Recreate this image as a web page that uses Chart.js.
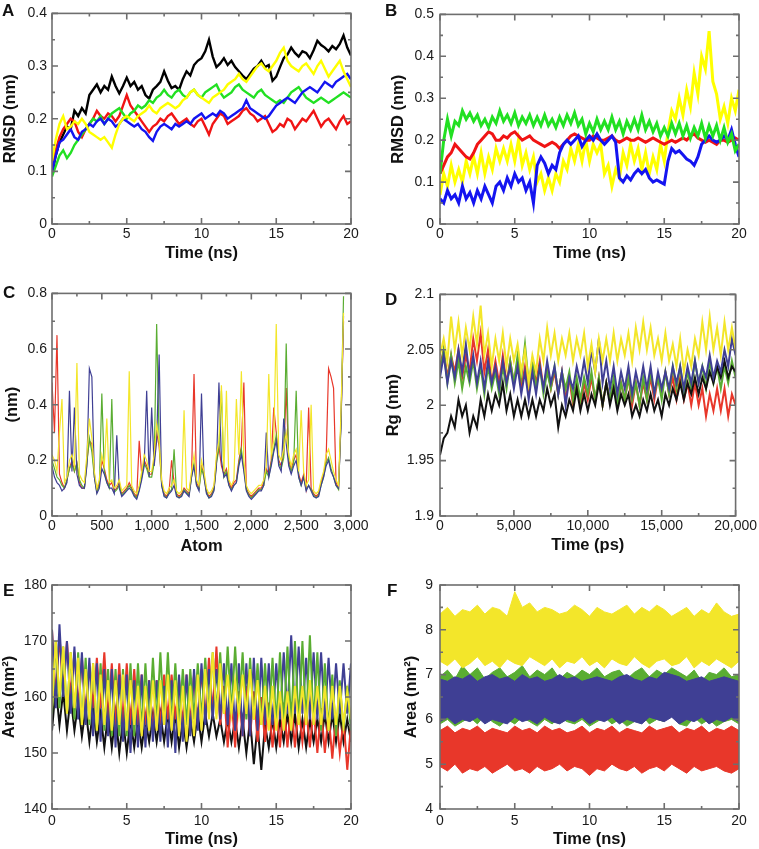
<!DOCTYPE html>
<html>
<head>
<meta charset="utf-8">
<script src="https://cdn.jsdelivr.net/npm/chart.js@4.4.1/dist/chart.umd.min.js"></script>
<style>
  body { margin: 0; background: #fff; }
  #page { position: relative; width: 759px; height: 849px; overflow: hidden; background: #fff; }
  canvas { position: absolute; }
  .tag { position: absolute; font: bold 17px "Liberation Sans", Arial, sans-serif; line-height: 17px; color: #111; }
</style>
</head>
<body>
<div id="page">
  <canvas id="panelA" width="380" height="280" style="left:0;top:0"></canvas>
  <canvas id="panelB" width="379" height="280" style="left:380px;top:0"></canvas>
  <canvas id="panelC" width="380" height="280" style="left:0;top:280px"></canvas>
  <canvas id="panelD" width="379" height="280" style="left:380px;top:280px"></canvas>
  <canvas id="panelE" width="380" height="289" style="left:0;top:560px"></canvas>
  <canvas id="panelF" width="379" height="289" style="left:380px;top:560px"></canvas>
  <div class="tag" style="left:2px;top:2px">A</div>
  <div class="tag" style="left:385px;top:2px">B</div>
  <div class="tag" style="left:3px;top:284px">C</div>
  <div class="tag" style="left:385px;top:291px">D</div>
  <div class="tag" style="left:3px;top:582px">E</div>
  <div class="tag" style="left:387px;top:582px">F</div>
</div>
<script>
// sampling grids (x positions of the saved frames)
const timeNs = Array.from({ length: 81 }, (_, i) => i * 0.25);      // 0..20 ns
const timeNsCoarse = Array.from({ length: 41 }, (_, i) => i * 0.5); // 0..20 ns
const timePs = Array.from({ length: 81 }, (_, i) => i * 250);       // 0..20000 ps
const atomIndex = Array.from({ length: 118 }, (_, i) => i * 25);    // 0..2925

// A - backbone RMSD (nm)
const rmsdA_black = [
  0.095, 0.13, 0.155, 0.17, 0.185, 0.18, 0.215, 0.205, 0.22,
  0.21, 0.245, 0.255, 0.265, 0.25, 0.262, 0.255, 0.28, 0.262,
  0.248, 0.262, 0.278, 0.262, 0.27, 0.255, 0.262, 0.245, 0.238,
  0.255, 0.262, 0.27, 0.29, 0.272, 0.258, 0.262, 0.255, 0.275,
  0.29, 0.282, 0.302, 0.31, 0.315, 0.328, 0.35, 0.318, 0.298,
  0.305, 0.315, 0.302, 0.31, 0.298, 0.29, 0.282, 0.275, 0.285,
  0.295, 0.3, 0.31, 0.298, 0.302, 0.272, 0.28, 0.298, 0.315,
  0.322, 0.335, 0.325, 0.318, 0.328, 0.325, 0.315, 0.33, 0.348,
  0.34, 0.335, 0.328, 0.338, 0.332, 0.342, 0.358, 0.335, 0.32
];
const rmsdA_red = [
  0.1, 0.14, 0.165, 0.18, 0.19, 0.2, 0.195, 0.175, 0.165,
  0.18, 0.19, 0.2, 0.215, 0.205, 0.2, 0.21, 0.205, 0.195,
  0.205, 0.225, 0.245, 0.225, 0.215, 0.205, 0.195, 0.185, 0.175,
  0.185, 0.19, 0.2, 0.195, 0.205, 0.21, 0.2, 0.19, 0.195,
  0.2, 0.19, 0.185, 0.195, 0.2, 0.185, 0.17, 0.19, 0.2,
  0.21, 0.205, 0.19, 0.195, 0.2, 0.205, 0.215, 0.22, 0.21,
  0.205, 0.195, 0.2, 0.205, 0.19, 0.175, 0.18, 0.19, 0.185,
  0.2, 0.195, 0.18, 0.19, 0.2, 0.195, 0.205, 0.215, 0.2,
  0.185, 0.195, 0.2, 0.19, 0.18, 0.195, 0.205, 0.19, 0.195
];
const rmsdA_blue = [
  0.1, 0.13, 0.155, 0.16, 0.17, 0.18, 0.165, 0.16, 0.175,
  0.18, 0.19, 0.185, 0.195, 0.2, 0.19, 0.2, 0.195, 0.185,
  0.19, 0.2, 0.195, 0.19, 0.185, 0.19, 0.18, 0.175, 0.165,
  0.158, 0.175, 0.185, 0.19, 0.185, 0.18, 0.19, 0.185, 0.19,
  0.195, 0.19, 0.2, 0.205, 0.21, 0.2, 0.205, 0.21, 0.205,
  0.215, 0.21, 0.2, 0.205, 0.21, 0.215, 0.22, 0.235, 0.22,
  0.215, 0.21, 0.205, 0.2, 0.205, 0.215, 0.225, 0.23, 0.235,
  0.24, 0.235, 0.23, 0.24, 0.25, 0.255, 0.26, 0.255, 0.25,
  0.26, 0.27, 0.265, 0.26, 0.27, 0.275, 0.28, 0.285, 0.275
];
const rmsdA_green = [
  0.09, 0.11, 0.13, 0.14, 0.125, 0.135, 0.15, 0.16, 0.17,
  0.18, 0.19, 0.2, 0.195, 0.205, 0.19, 0.2, 0.21, 0.215,
  0.22, 0.21, 0.2, 0.21, 0.215, 0.225, 0.22, 0.225, 0.235,
  0.23, 0.24, 0.245, 0.255, 0.245, 0.24, 0.25, 0.255, 0.245,
  0.24, 0.25, 0.255, 0.245, 0.24, 0.25, 0.255, 0.26, 0.265,
  0.25, 0.24, 0.245, 0.25, 0.26, 0.265, 0.255, 0.25, 0.245,
  0.24, 0.25, 0.255, 0.245, 0.24, 0.235, 0.23, 0.235, 0.23,
  0.24, 0.25, 0.255, 0.26, 0.25, 0.24, 0.235, 0.23, 0.235,
  0.24, 0.235, 0.23, 0.235, 0.24, 0.245, 0.25, 0.245, 0.24
];
const rmsdA_yellow = [
  0.12, 0.16, 0.19, 0.205, 0.18, 0.185, 0.195, 0.19, 0.2,
  0.19, 0.175, 0.17, 0.165, 0.16, 0.165, 0.155, 0.145, 0.17,
  0.19, 0.2, 0.205, 0.2, 0.195, 0.205, 0.21, 0.215, 0.225,
  0.215, 0.21, 0.22, 0.225, 0.23, 0.225, 0.22, 0.225, 0.235,
  0.24, 0.25, 0.255, 0.245, 0.24, 0.235, 0.23, 0.24, 0.245,
  0.25, 0.255, 0.265, 0.27, 0.275, 0.285, 0.275, 0.27, 0.28,
  0.29, 0.3, 0.305, 0.295, 0.29, 0.3, 0.31, 0.325, 0.335,
  0.31, 0.3, 0.295, 0.29, 0.3, 0.305, 0.295, 0.285, 0.3,
  0.31, 0.295, 0.28, 0.29, 0.3, 0.31, 0.29, 0.275, 0.26
];

// B - ligand RMSD (nm)
const rmsdB_green = [
  0.12, 0.2, 0.25, 0.21, 0.245, 0.235, 0.27, 0.25, 0.265,
  0.245, 0.26, 0.235, 0.25, 0.23, 0.255, 0.24, 0.27, 0.245,
  0.26, 0.24, 0.265, 0.235, 0.255, 0.24, 0.26, 0.235, 0.255,
  0.235, 0.26, 0.235, 0.25, 0.23, 0.255, 0.235, 0.26, 0.24,
  0.265, 0.235, 0.25, 0.215, 0.24, 0.22, 0.25, 0.225, 0.245,
  0.225, 0.255, 0.225, 0.245, 0.215, 0.245, 0.225, 0.25, 0.225,
  0.26, 0.225, 0.245, 0.22, 0.24, 0.21, 0.23, 0.21, 0.24,
  0.215, 0.24, 0.21, 0.235, 0.205, 0.23, 0.21, 0.24, 0.205,
  0.235, 0.21, 0.235, 0.2, 0.23, 0.195, 0.215, 0.175, 0.19
];
const rmsdB_red = [
  0.12, 0.14, 0.16, 0.17, 0.19, 0.18, 0.17, 0.16, 0.155,
  0.17, 0.19, 0.2, 0.21, 0.22, 0.215, 0.2, 0.2, 0.21,
  0.205, 0.215, 0.22, 0.21, 0.2, 0.205, 0.21, 0.2, 0.195,
  0.19, 0.185, 0.19, 0.195, 0.19, 0.18, 0.19, 0.2, 0.21,
  0.215, 0.21, 0.205, 0.2, 0.2, 0.21, 0.205, 0.2, 0.2,
  0.205, 0.21, 0.2, 0.195, 0.2, 0.205, 0.2, 0.2, 0.205,
  0.2, 0.195, 0.2, 0.205, 0.2, 0.195, 0.19, 0.195, 0.2,
  0.195, 0.2, 0.205, 0.2, 0.21, 0.215, 0.205, 0.2, 0.195,
  0.2, 0.195, 0.19, 0.2, 0.2, 0.195, 0.2, 0.205, 0.2
];
const rmsdB_blue = [
  0.06, 0.05, 0.08, 0.06, 0.07, 0.05, 0.09, 0.06, 0.075,
  0.05, 0.08, 0.06, 0.09, 0.07, 0.05, 0.09, 0.1, 0.08,
  0.11, 0.09, 0.12, 0.1, 0.11, 0.08, 0.1, 0.05, 0.14,
  0.16, 0.145, 0.12, 0.14, 0.13, 0.17, 0.19, 0.2, 0.19,
  0.2, 0.21, 0.185, 0.2, 0.21, 0.2, 0.215, 0.2, 0.19,
  0.2, 0.21, 0.195, 0.11, 0.1, 0.115, 0.105, 0.12, 0.13,
  0.12, 0.13, 0.11, 0.1, 0.105, 0.1, 0.095, 0.15, 0.18,
  0.17, 0.175, 0.165, 0.155, 0.15, 0.14, 0.16, 0.19, 0.2,
  0.21, 0.2, 0.195, 0.2, 0.21, 0.2, 0.225, 0.19, 0.16
];
const rmsdB_yellow = [
  0.07, 0.12, 0.09, 0.14, 0.1, 0.13, 0.1, 0.15, 0.12,
  0.16, 0.12, 0.17, 0.12, 0.16, 0.13, 0.18, 0.15, 0.18,
  0.15, 0.19, 0.15, 0.2, 0.14, 0.17, 0.13, 0.16, 0.1,
  0.12, 0.08, 0.11, 0.08, 0.12, 0.1, 0.15, 0.13, 0.18,
  0.15, 0.19, 0.15, 0.2, 0.15, 0.19, 0.17, 0.19, 0.12,
  0.14, 0.09, 0.13, 0.11, 0.17, 0.14, 0.19, 0.15, 0.18,
  0.13, 0.17, 0.12, 0.16, 0.13, 0.19, 0.15, 0.22, 0.27,
  0.25, 0.3, 0.26, 0.32, 0.28, 0.36, 0.31, 0.4, 0.37,
  0.46, 0.34, 0.31, 0.25, 0.28, 0.24, 0.3, 0.27, 0.32
];

// C - RMSF per atom (nm)
const rmsfC_yellow = [
  0.22, 0.2, 0.16, 0.3, 0.42, 0.12, 0.14, 0.2, 0.22, 0.18,
  0.55, 0.15, 0.13, 0.12, 0.22, 0.35, 0.28, 0.16, 0.1, 0.13,
  0.22, 0.18, 0.35, 0.12, 0.13, 0.1, 0.11, 0.13, 0.09, 0.1,
  0.11, 0.52, 0.11, 0.09, 0.08, 0.11, 0.16, 0.22, 0.2, 0.16,
  0.16, 0.22, 0.33, 0.27, 0.13, 0.09, 0.08, 0.1, 0.11, 0.13,
  0.09, 0.08, 0.09, 0.38, 0.1, 0.09, 0.16, 0.22, 0.13, 0.11,
  0.2, 0.16, 0.1, 0.08, 0.09, 0.11, 0.22, 0.27, 0.47, 0.16,
  0.45, 0.13, 0.11, 0.13, 0.42, 0.22, 0.52, 0.2, 0.11, 0.09,
  0.08, 0.09, 0.1, 0.11, 0.11, 0.13, 0.18, 0.51, 0.22, 0.27,
  0.69, 0.22, 0.2, 0.24, 0.3, 0.22, 0.18, 0.22, 0.24, 0.16,
  0.38, 0.16, 0.11, 0.13, 0.4, 0.09, 0.08, 0.09, 0.13, 0.16,
  0.22, 0.24, 0.2, 0.16, 0.13, 0.11, 0.38, 0.73
];
const rmsfC_navy = [
  0.18, 0.14, 0.12, 0.11, 0.09, 0.1, 0.12, 0.45, 0.16, 0.39,
  0.15, 0.11, 0.1, 0.1, 0.18, 0.53, 0.5, 0.14, 0.08, 0.1,
  0.17, 0.15, 0.12, 0.1, 0.1, 0.08, 0.29, 0.1, 0.07, 0.08,
  0.09, 0.1, 0.09, 0.07, 0.06, 0.09, 0.13, 0.18, 0.45, 0.14,
  0.39, 0.18, 0.27, 0.58, 0.11, 0.07, 0.065, 0.08, 0.09, 0.11,
  0.07, 0.065, 0.07, 0.09, 0.08, 0.07, 0.14, 0.18, 0.11, 0.09,
  0.44, 0.14, 0.08, 0.065, 0.07, 0.09, 0.18, 0.48, 0.2, 0.14,
  0.15, 0.11, 0.09, 0.11, 0.12, 0.18, 0.22, 0.16, 0.09, 0.07,
  0.06, 0.07, 0.08, 0.09, 0.09, 0.11, 0.3, 0.14, 0.18, 0.23,
  0.27, 0.18, 0.16, 0.35, 0.26, 0.18, 0.15, 0.18, 0.2, 0.14,
  0.11, 0.14, 0.09, 0.11, 0.09, 0.07, 0.065, 0.07, 0.11, 0.14,
  0.18, 0.2, 0.16, 0.14, 0.11, 0.1, 0.33, 0.72
];
const rmsfC_green = [
  0.2, 0.17, 0.14, 0.13, 0.11, 0.1, 0.13, 0.17, 0.19, 0.16,
  0.19, 0.13, 0.11, 0.1, 0.19, 0.28, 0.23, 0.14, 0.085, 0.11,
  0.44, 0.16, 0.12, 0.1, 0.42, 0.085, 0.095, 0.11, 0.075, 0.085,
  0.095, 0.11, 0.095, 0.075, 0.065, 0.095, 0.14, 0.19, 0.17, 0.14,
  0.14, 0.19, 0.69, 0.27, 0.11, 0.075, 0.065, 0.085, 0.095, 0.24,
  0.075, 0.065, 0.075, 0.095, 0.085, 0.075, 0.14, 0.19, 0.11, 0.095,
  0.17, 0.14, 0.085, 0.065, 0.075, 0.095, 0.19, 0.24, 0.45, 0.14,
  0.16, 0.11, 0.095, 0.11, 0.12, 0.19, 0.24, 0.17, 0.095, 0.075,
  0.065, 0.075, 0.085, 0.095, 0.095, 0.11, 0.16, 0.14, 0.19, 0.24,
  0.29, 0.19, 0.17, 0.21, 0.62, 0.19, 0.16, 0.19, 0.45, 0.14,
  0.11, 0.14, 0.095, 0.11, 0.095, 0.075, 0.065, 0.075, 0.11, 0.14,
  0.19, 0.21, 0.17, 0.14, 0.11, 0.095, 0.34, 0.79
];
const rmsfC_red = [
  0.48, 0.3, 0.65, 0.15, 0.12, 0.1, 0.13, 0.17, 0.2, 0.16,
  0.19, 0.12, 0.1, 0.1, 0.2, 0.27, 0.26, 0.15, 0.09, 0.12,
  0.2, 0.17, 0.13, 0.11, 0.12, 0.09, 0.1, 0.12, 0.08, 0.09,
  0.1, 0.12, 0.1, 0.08, 0.07, 0.27, 0.15, 0.2, 0.18, 0.15,
  0.15, 0.2, 0.3, 0.25, 0.12, 0.08, 0.07, 0.09, 0.2, 0.12,
  0.08, 0.07, 0.08, 0.1, 0.09, 0.08, 0.15, 0.51, 0.12, 0.1,
  0.18, 0.15, 0.09, 0.07, 0.08, 0.1, 0.2, 0.25, 0.18, 0.15,
  0.17, 0.12, 0.1, 0.12, 0.13, 0.2, 0.25, 0.48, 0.1, 0.08,
  0.07, 0.08, 0.09, 0.1, 0.1, 0.12, 0.17, 0.15, 0.2, 0.39,
  0.3, 0.2, 0.18, 0.22, 0.46, 0.2, 0.17, 0.2, 0.22, 0.15,
  0.12, 0.15, 0.1, 0.39, 0.1, 0.08, 0.07, 0.08, 0.12, 0.15,
  0.2, 0.53, 0.5, 0.46, 0.12, 0.1, 0.35, 0.7
];

// D - radius of gyration (nm)
const rgD_yellow = [
  2.045, 2.06, 2.04, 2.08, 2.05, 2.075, 2.045, 2.07, 2.05,
  2.08, 2.055, 2.09, 2.045, 2.065, 2.035, 2.06, 2.04, 2.065,
  2.035, 2.06, 2.04, 2.055, 2.03, 2.05, 2.02, 2.045, 2.03,
  2.06, 2.04, 2.07, 2.045, 2.065, 2.04, 2.06, 2.045, 2.065,
  2.04, 2.06, 2.045, 2.065, 2.035, 2.055, 2.03, 2.06, 2.04,
  2.06, 2.04, 2.065, 2.04, 2.06, 2.045, 2.065, 2.04, 2.07,
  2.05, 2.075, 2.05, 2.07, 2.045, 2.06, 2.04, 2.065, 2.04,
  2.055, 2.035, 2.06, 2.03, 2.05, 2.035, 2.06, 2.045, 2.075,
  2.05, 2.08, 2.05, 2.07, 2.045, 2.075, 2.05, 2.07, 2.05
];
const rgD_navy = [
  2.025, 2.045, 2.02, 2.04, 2.025, 2.05, 2.03, 2.055, 2.025,
  2.045, 2.02, 2.04, 2.015, 2.04, 2.02, 2.035, 2.015, 2.04,
  2.02, 2.035, 2.015, 2.035, 2.01, 2.03, 2.005, 2.03, 2.01,
  2.035, 2.015, 2.04, 2.02, 2.035, 2.01, 2.03, 2.0, 2.025,
  2.015, 2.035, 2.02, 2.04, 2.02, 2.05, 2.03, 2.06, 2.02,
  2.04, 2.015, 2.035, 2.01, 2.03, 2.015, 2.035, 2.01, 2.03,
  2.015, 2.035, 2.015, 2.035, 2.01, 2.03, 2.015, 2.03, 2.015,
  2.035, 2.02, 2.035, 2.015, 2.035, 2.02, 2.04, 2.02, 2.035,
  2.025, 2.045, 2.025, 2.04, 2.03, 2.05, 2.035, 2.06, 2.045
];
const rgD_green = [
  2.03, 2.05, 2.02, 2.045, 2.02, 2.04, 2.015, 2.035, 2.02,
  2.04, 2.015, 2.035, 2.01, 2.035, 2.015, 2.03, 2.01, 2.035,
  2.015, 2.04, 2.02, 2.045, 2.025, 2.055, 2.02, 2.04, 2.015,
  2.035, 2.01, 2.03, 2.015, 2.035, 2.01, 2.03, 2.015, 2.03,
  2.005, 2.025, 2.005, 2.025, 2.01, 2.03, 2.005, 2.025, 2.0,
  2.02, 2.005, 2.025, 2.0, 2.02, 2.005, 2.025, 2.005, 2.02,
  2.0, 2.025, 2.005, 2.03, 2.01, 2.025, 2.005, 2.03, 2.01,
  2.035, 2.015, 2.035, 2.01, 2.03, 2.015, 2.04, 2.02, 2.035,
  2.015, 2.04, 2.02, 2.035, 2.015, 2.035, 2.02, 2.04, 2.025
];
const rgD_red = [
  2.035, 2.05, 2.025, 2.045, 2.03, 2.05, 2.025, 2.045, 2.03,
  2.06, 2.04, 2.065, 2.03, 2.05, 2.02, 2.04, 2.02, 2.045,
  2.02, 2.04, 2.02, 2.04, 2.015, 2.035, 2.015, 2.04, 2.02,
  2.04, 2.015, 2.035, 2.015, 2.03, 2.01, 2.03, 2.005, 2.025,
  2.0, 2.02, 2.0, 2.02, 2.005, 2.025, 2.005, 2.025, 2.0,
  2.02, 2.005, 2.02, 2.0, 2.02, 2.005, 2.025, 2.0, 2.02,
  2.0, 2.02, 2.005, 2.025, 2.005, 2.025, 2.01, 2.03, 2.01,
  2.025, 2.005, 2.025, 2.005, 2.02, 2.0, 2.02, 2.0, 2.015,
  1.99, 2.01, 1.995, 2.015, 1.995, 2.015, 1.99, 2.01, 2.0
];
const rgD_black = [
  1.955, 1.97, 1.975, 1.99, 1.98, 2.005, 1.99, 2.0, 1.975,
  1.99, 1.98, 2.005, 1.99, 2.01, 1.995, 2.01, 2.0, 2.02,
  1.995, 2.01, 1.99, 2.005, 1.99, 2.005, 1.99, 2.005, 1.99,
  2.005, 1.995, 2.015, 2.0, 2.01, 1.98, 2.0, 1.99, 2.005,
  1.995, 2.015, 1.995, 2.01, 1.995, 2.01, 2.0, 2.02, 2.0,
  2.02, 2.0, 2.015, 1.995, 2.01, 2.0, 2.01, 1.99, 2.0,
  1.99, 2.005, 1.995, 2.01, 1.995, 2.005, 1.99, 2.01, 2.0,
  2.015, 2.005, 2.02, 2.005, 2.02, 2.01, 2.025, 2.01, 2.025,
  2.015, 2.03, 2.02, 2.035, 2.025, 2.04, 2.025, 2.035, 2.03
];

// E - SASA (nm^2)
const sasaE_yellow = [
  158, 170, 160, 169, 157, 168, 158, 167, 155,
  165, 156, 166, 154, 164, 155, 163, 154, 163,
  155, 164, 154, 163, 155, 162, 153, 162, 154,
  163, 154, 163, 155, 164, 154, 163, 153, 162,
  152, 162, 153, 164, 154, 165, 156, 168, 156,
  166, 157, 164, 157, 163, 157, 164, 157, 165,
  156, 163, 155, 162, 154, 162, 154, 161, 154,
  161, 154, 162, 155, 162, 155, 163, 155, 162,
  155, 162, 154, 162, 155, 162, 155, 161, 156
];
const sasaE_navy = [
  172, 158, 173, 160, 170, 157, 169, 156, 168,
  155, 167, 153, 166, 152, 165, 153, 165, 151,
  164, 152, 164, 150, 163, 151, 164, 151, 163,
  152, 163, 152, 162, 151, 163, 150, 164, 152,
  164, 153, 165, 154, 166, 155, 165, 156, 165,
  156, 166, 155, 166, 154, 166, 153, 166, 153,
  167, 154, 167, 155, 166, 155, 166, 156, 168,
  157, 171, 157, 169, 157, 167, 156, 168, 156,
  168, 156, 167, 156, 166, 157, 166, 157, 166
];
const sasaE_green = [
  157, 170, 158, 169, 157, 168, 156, 168, 155,
  167, 155, 166, 154, 166, 154, 165, 153, 165,
  153, 165, 153, 166, 153, 166, 154, 166, 154,
  167, 155, 168, 155, 168, 155, 166, 155, 165,
  155, 165, 156, 166, 156, 167, 157, 168, 157,
  168, 157, 169, 157, 169, 157, 168, 156, 167,
  156, 166, 155, 166, 155, 167, 155, 168, 155,
  169, 155, 170, 155, 170, 155, 171, 155, 168,
  154, 166, 154, 164, 153, 163, 154, 162, 154
];
const sasaE_red = [
  172, 160, 171, 161, 170, 160, 168, 158, 167,
  157, 166, 158, 167, 158, 168, 156, 166, 155,
  166, 155, 166, 155, 165, 155, 164, 155, 163,
  154, 163, 155, 164, 156, 164, 156, 163, 155,
  164, 155, 164, 155, 165, 156, 167, 157, 169,
  155, 162, 151, 160, 151, 161, 153, 162, 153,
  161, 152, 160, 152, 159, 151, 158, 151, 159,
  151, 159, 151, 158, 152, 158, 151, 158, 150,
  158, 150, 157, 149, 157, 150, 156, 147, 155
];
const sasaE_black = [
  154, 162, 155, 161, 154, 160, 154, 159, 153,
  158, 152, 158, 152, 157, 151, 157, 151, 157,
  150, 156, 150, 156, 151, 156, 151, 156, 152,
  157, 152, 157, 152, 157, 152, 157, 151, 156,
  151, 156, 152, 157, 152, 157, 153, 157, 153,
  156, 152, 156, 152, 156, 151, 156, 150, 156,
  148, 155, 147, 155, 151, 156, 151, 156, 152,
  157, 152, 157, 151, 156, 151, 156, 152, 156,
  152, 157, 152, 157, 152, 157, 152, 156, 152
];

// F - pocket area (nm^2), upper / lower edge of each band
const areaF_yellowHi = [
  8.35, 8.5, 8.3, 8.45, 8.4, 8.55, 8.35, 8.5, 8.45, 8.3,
  8.85, 8.5, 8.6, 8.4, 8.5, 8.45, 8.35, 8.4, 8.55, 8.45,
  8.3, 8.5, 8.4, 8.35, 8.45, 8.55, 8.35, 8.5, 8.4, 8.55,
  8.45, 8.3, 8.4, 8.5, 8.3, 8.45, 8.35, 8.6, 8.4, 8.3, 8.35
];
const areaF_yellowLo = [
  7.3, 7.2, 7.35, 7.15, 7.25, 7.4, 7.2, 7.3, 7.15, 7.35,
  7.25, 7.2, 7.4, 7.3, 7.2, 7.35, 7.15, 7.3, 7.25, 7.4,
  7.2, 7.3, 7.15, 7.35, 7.25, 7.2, 7.4, 7.25, 7.15, 7.3,
  7.35, 7.2, 7.25, 7.4, 7.15, 7.3, 7.2, 7.35, 7.25, 7.15, 7.3
];
const areaF_greenHi = [
  6.95, 7.1, 6.9, 7.2, 7.0, 7.15, 6.9, 7.05, 7.15, 6.95,
  7.05, 7.2, 6.95, 7.1, 7.0, 7.15, 6.9, 7.05, 6.95, 7.1,
  7.0, 7.15, 6.95, 7.05, 7.1, 6.9, 7.05, 7.15, 6.95, 7.1,
  7.0, 7.15, 7.05, 6.95, 7.1, 6.85, 7.05, 7.0, 7.15, 6.95, 7.0
];
const areaF_greenLo = [
  5.9, 6.0, 5.85, 5.95, 6.05, 5.9, 6.1, 5.95, 5.85, 6.0,
  5.9, 6.05, 5.95, 5.85, 6.0, 5.9, 6.05, 5.95, 5.9, 6.0,
  5.85, 5.95, 6.05, 5.9, 6.0, 5.85, 5.95, 6.1, 5.9, 6.0,
  5.95, 6.2, 5.9, 5.85, 6.05, 5.9, 6.0, 5.85, 5.95, 6.0, 5.9
];
const areaF_navyHi = [
  6.9, 6.85, 6.95, 6.9, 7.0, 6.85, 6.95, 7.0, 6.9, 6.95,
  6.85, 7.0, 6.9, 6.95, 6.85, 6.9, 7.0, 6.9, 6.95, 6.85,
  6.9, 6.95, 6.9, 6.85, 6.95, 7.0, 6.9, 6.85, 6.95, 6.9,
  7.05, 7.0, 6.95, 6.85, 6.9, 6.95, 6.85, 6.9, 6.95, 6.9, 6.85
];
const areaF_navyLo = [
  5.95, 6.05, 5.9, 6.0, 5.95, 6.05, 5.9, 6.0, 5.95, 5.9,
  6.05, 5.95, 6.0, 5.9, 6.05, 5.95, 5.9, 6.0, 5.95, 6.05,
  5.9, 6.0, 5.95, 6.05, 5.9, 6.0, 5.95, 5.9, 6.05, 6.0,
  5.95, 6.05, 5.9, 6.0, 5.95, 6.05, 5.9, 6.0, 5.95, 6.05, 5.95
];
const areaF_redHi = [
  5.75, 5.85, 5.7, 5.8, 5.75, 5.85, 5.7, 5.8, 5.75, 5.7,
  5.85, 5.75, 5.8, 5.7, 5.85, 5.75, 5.8, 5.7, 5.75, 5.85,
  5.7, 5.8, 5.75, 5.85, 5.7, 5.8, 5.75, 5.7, 5.85, 5.75,
  5.8, 5.85, 5.7, 5.8, 5.75, 5.85, 5.7, 5.8, 5.75, 5.85, 5.75
];
const areaF_redLo = [
  4.95, 4.85, 5.0, 4.8, 4.9, 4.85, 4.95, 4.8, 4.9, 5.0,
  4.85, 4.9, 4.8, 4.95, 4.85, 4.9, 5.0, 4.85, 4.95, 4.9,
  4.75, 4.9, 4.85, 5.0, 4.9, 4.85, 4.95, 4.8, 4.9, 4.95,
  4.85, 5.0, 4.9, 4.8, 4.95, 4.85, 4.9, 4.95, 4.85, 4.8, 4.9
];

// colours: bright xmgrace set for A/B, softer set for C-F
const bright = { black: '#000000', red: '#f01414', green: '#22e022', blue: '#1414f0', yellow: '#ffff00' };
const soft = { black: '#111111', red: '#e8372a', green: '#5aad32', navy: '#3f3f94', yellow: '#f3e62a' };

const FONT = '"Liberation Sans", Arial, sans-serif';
const tickFont = { family: FONT, size: 14 };
const titleFont = { family: FONT, size: 16.5, weight: 'bold' };

function fmt(v) {
  return Number(Number(v).toFixed(4)).toLocaleString('en-US', { maximumFractionDigits: 4 });
}

function pts(xs, ys) {
  return ys.map((y, i) => ({ x: xs[i], y: y }));
}

function line(xs, ys, color, width) {
  return { data: pts(xs, ys), borderColor: color, borderWidth: width, pointRadius: 0, tension: 0, fill: false };
}

function band(xs, hi, lo, color) {
  return [
    { data: pts(xs, hi), borderColor: color, borderWidth: 1, pointRadius: 0, tension: 0, fill: false },
    { data: pts(xs, lo), borderColor: color, borderWidth: 1, pointRadius: 0, tension: 0, fill: '-1', backgroundColor: color }
  ];
}

// box with inward major/minor ticks on all four sides
const framePlugin = {
  id: 'frame',
  afterDatasetsDraw(chart) {
    const { ctx, chartArea: a, scales } = chart;
    const marks = (scale) => {
      const major = scale.ticks.map(t => t.value);
      const out = major.map(v => ({ v: v, len: 6 }));
      for (let i = 0; i < major.length - 1; i++) {
        out.push({ v: (major[i] + major[i + 1]) / 2, len: 3 });
      }
      return out;
    };
    ctx.save();
    ctx.strokeStyle = '#6e6e6e';
    ctx.lineWidth = 1.6;
    ctx.beginPath();
    marks(scales.x).forEach(m => {
      const px = scales.x.getPixelForValue(m.v);
      ctx.moveTo(px, a.bottom); ctx.lineTo(px, a.bottom - m.len);
      ctx.moveTo(px, a.top); ctx.lineTo(px, a.top + m.len);
    });
    marks(scales.y).forEach(m => {
      const py = scales.y.getPixelForValue(m.v);
      ctx.moveTo(a.left, py); ctx.lineTo(a.left + m.len, py);
      ctx.moveTo(a.right, py); ctx.lineTo(a.right - m.len, py);
    });
    ctx.stroke();
    ctx.strokeRect(a.left, a.top, a.right - a.left, a.bottom - a.top);
    ctx.restore();
  }
};

function makePanel(id, p) {
  new Chart(document.getElementById(id), {
    type: 'line',
    data: { datasets: p.datasets },
    options: {
      responsive: false,
      animation: false,
      devicePixelRatio: 1,
      layout: { autoPadding: false, padding: { top: p.top, right: p.right, left: 0, bottom: 0 } },
      plugins: { legend: { display: false }, tooltip: { enabled: false } },
      scales: {
        x: {
          type: 'linear', min: p.x[0], max: p.x[1],
          afterFit: s => { s.height = p.xH; },
          grid: { display: false, drawTicks: false },
          border: { display: false },
          ticks: { stepSize: p.x[2], padding: p.xPad, maxRotation: 0, autoSkip: false, font: tickFont, color: '#1a1a1a', callback: fmt },
          title: { display: true, text: p.xTitle, font: titleFont, color: '#111', padding: { top: 0, bottom: p.xTitlePad } }
        },
        y: {
          type: 'linear', min: p.y[0], max: p.y[1],
          afterFit: s => { s.width = p.yW; },
          grid: { display: false, drawTicks: false },
          border: { display: false },
          ticks: { stepSize: p.y[2], padding: p.yPad, autoSkip: false, font: tickFont, color: '#1a1a1a', callback: fmt },
          title: { display: true, text: p.yTitle, font: titleFont, color: '#111', padding: { top: p.yTitlePad, bottom: 0 } }
        }
      }
    },
    plugins: [framePlugin]
  });
}

// first dataset is painted last (on top)
makePanel('panelA', {
  top: 5, right: 29, yW: 52, xH: 56, xPad: 2, yPad: 5, xTitlePad: 17, yTitlePad: 1,
  x: [0, 20, 5], y: [0, 0.4, 0.1], xTitle: 'Time (ns)', yTitle: 'RMSD (nm)',
  datasets: [
    line(timeNs, rmsdA_yellow, bright.yellow, 2.4),
    line(timeNs, rmsdA_blue, bright.blue, 2.4),
    line(timeNs, rmsdA_green, bright.green, 2.4),
    line(timeNs, rmsdA_red, bright.red, 2.4),
    line(timeNs, rmsdA_black, bright.black, 2.4)
  ]
});

makePanel('panelB', {
  top: 5, right: 20, yW: 60, xH: 56, xPad: 2, yPad: 6, xTitlePad: 17, yTitlePad: 8.6,
  x: [0, 20, 5], y: [0, 0.5, 0.1], xTitle: 'Time (ns)', yTitle: 'RMSD (nm)',
  datasets: [
    line(timeNs, rmsdB_green, bright.green, 3),
    line(timeNs, rmsdB_blue, bright.blue, 3),
    line(timeNs, rmsdB_red, bright.red, 3),
    line(timeNs, rmsdB_yellow, bright.yellow, 3)
  ]
});

makePanel('panelC', {
  top: 12, right: 29, yW: 52, xH: 44, xPad: 2, yPad: 5, xTitlePad: 4, yTitlePad: 3,
  x: [0, 3000, 500], y: [0, 0.8, 0.2], xTitle: 'Atom', yTitle: '(nm)',
  datasets: [
    line(atomIndex, rmsfC_yellow, soft.yellow, 1.2),
    line(atomIndex, rmsfC_navy, soft.navy, 1.2),
    line(atomIndex, rmsfC_green, soft.green, 1.2),
    line(atomIndex, rmsfC_red, soft.red, 1.2)
  ]
});

makePanel('panelD', {
  top: 12, right: 20, yW: 60, xH: 44, xPad: 2, yPad: 6, xTitlePad: 5, yTitlePad: 3.5,
  x: [0, 20000, 5000], y: [1.9, 2.1, 0.05], xTitle: 'Time (ps)', yTitle: 'Rg (nm)',
  datasets: [
    line(timePs, rgD_yellow, soft.yellow, 2),
    line(timePs, rgD_navy, soft.navy, 2),
    line(timePs, rgD_black, soft.black, 2),
    line(timePs, rgD_green, soft.green, 2),
    line(timePs, rgD_red, soft.red, 2)
  ]
});

makePanel('panelE', {
  top: 25, right: 29, yW: 52, xH: 40, xPad: 4, yPad: 5, xTitlePad: 0, yTitlePad: 0,
  x: [0, 20, 5], y: [140, 180, 10], xTitle: 'Time (ns)', yTitle: 'Area (nm²)',
  datasets: [
    line(timeNs, sasaE_yellow, soft.yellow, 2),
    line(timeNs, sasaE_green, soft.green, 2),
    line(timeNs, sasaE_navy, soft.navy, 2),
    line(timeNs, sasaE_red, soft.red, 2),
    line(timeNs, sasaE_black, soft.black, 2)
  ]
});

makePanel('panelF', {
  top: 25, right: 20, yW: 60, xH: 40, xPad: 4, yPad: 7, xTitlePad: 0, yTitlePad: 22,
  x: [0, 20, 5], y: [4, 9, 1], xTitle: 'Time (ns)', yTitle: 'Area (nm²)',
  datasets: [].concat(
    band(timeNsCoarse, areaF_yellowHi, areaF_yellowLo, soft.yellow),
    band(timeNsCoarse, areaF_redHi, areaF_redLo, soft.red),
    band(timeNsCoarse, areaF_navyHi, areaF_navyLo, soft.navy),
    band(timeNsCoarse, areaF_greenHi, areaF_greenLo, soft.green)
  )
});
</script>
</body>
</html>
